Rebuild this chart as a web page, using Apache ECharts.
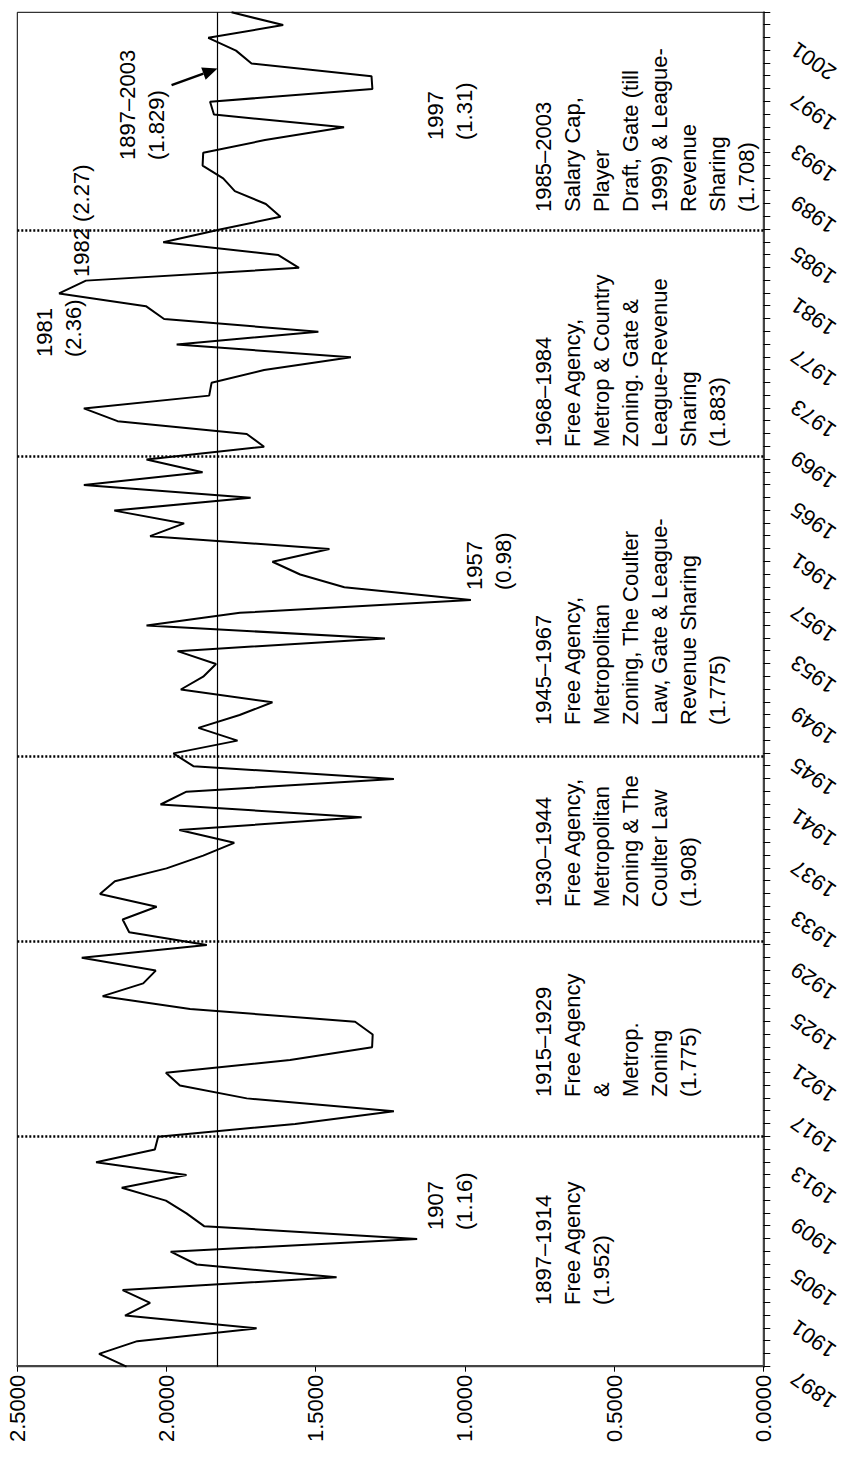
<!DOCTYPE html>
<html>
<head>
<meta charset="utf-8">
<script src="https://cdn.jsdelivr.net/npm/echarts@6/dist/echarts.min.js"></script>
<style>
  html, body { margin: 0; padding: 0; background: #fff; width: 843px; height: 1457px; overflow: hidden; }
  /* the chart is laid out landscape and turned a quarter turn counter-clockwise */
  #chart { position: absolute; left: 0; top: 0; width: 1457px; height: 843px;
           transform-origin: 0 0; transform: translateY(1457px) rotate(-90deg); }
</style>
</head>
<body>
<div id="chart"></div>
<script>
// seasons on the horizontal axis
const years = [
  1897, 1898, 1899, 1900, 1901, 1902, 1903, 1904, 1905, 1906,
  1907, 1908, 1909, 1910, 1911, 1912, 1913, 1914, 1915, 1916,
  1917, 1918, 1919, 1920, 1921, 1922, 1923, 1924, 1925, 1926,
  1927, 1928, 1929, 1930, 1931, 1932, 1933, 1934, 1935, 1936,
  1937, 1938, 1939, 1940, 1941, 1942, 1943, 1944, 1945, 1946,
  1947, 1948, 1949, 1950, 1951, 1952, 1953, 1954, 1955, 1956,
  1957, 1958, 1959, 1960, 1961, 1962, 1963, 1964, 1965, 1966,
  1967, 1968, 1969, 1970, 1971, 1972, 1973, 1974, 1975, 1976,
  1977, 1978, 1979, 1980, 1981, 1982, 1983, 1984, 1985, 1986,
  1987, 1988, 1989, 1990, 1991, 1992, 1993, 1994, 1995, 1996,
  1997, 1998, 1999, 2000, 2001, 2002, 2003
];

// competitive-balance ratio per season
const ratio = [
  2.134, 2.226, 2.098, 1.698, 2.139, 2.055, 2.147, 1.430, 1.899, 1.986,
  1.16,  1.874, 1.933, 2.002, 2.150, 1.933, 2.236, 2.039, 2.028, 1.569,
  1.238, 1.731, 1.955, 2.002, 1.586, 1.311, 1.309, 1.368, 1.921, 2.214,
  2.078, 2.036, 2.284, 1.865, 2.125, 2.147, 2.033, 2.223, 2.173, 2.000,
  1.877, 1.773, 1.957, 1.346, 2.020, 1.933, 1.238, 1.910, 1.977, 1.762,
  1.893, 1.755, 1.645, 1.952, 1.877, 1.834, 1.963, 1.268, 2.067, 1.754,
  0.98,  1.404, 1.552, 1.645, 1.454, 2.055, 1.941, 2.175, 1.718, 2.277,
  1.879, 2.067, 1.673, 1.731, 2.164, 2.277, 1.857, 1.849, 1.673, 1.382,
  1.966, 1.491, 2.008, 2.069, 2.36,  2.27,  1.556, 1.625, 2.011, 1.821,
  1.618, 1.667, 1.771, 1.810, 1.879, 1.877, 1.670, 1.405, 1.841, 1.854,
  1.31,  1.313, 1.715, 1.767, 1.860, 1.609, 1.782
];

// long-run average over the whole period
const overallMean = 1.829;

// dividing lines between the labour-market regimes
const regimeBreaks = [1915, 1930.25, 1944.75, 1968.25, 1985.9];

// value-axis ticks
const valueTicks = [0, 0.5, 1.0, 1.5, 2.0, 2.5];

// regime descriptions, one text block per regime
const regimeText = [
  '1897\u20131914\nFree Agency\n(1.952)',
  '1915\u20131929\nFree Agency\n&\nMetrop.\nZoning\n(1.775)',
  '1930\u20131944\nFree Agency,\nMetropolitan\nZoning & The\nCoulter Law\n(1.908)',
  '1945\u20131967\nFree Agency,\nMetropolitan\nZoning, The Coulter\nLaw, Gate & League-\nRevenue Sharing\n(1.775)',
  '1968\u20131984\nFree Agency,\nMetrop & Country\nZoning. Gate &\nLeague-Revenue\nSharing\n(1.883)',
  '1985\u20132003\nSalary Cap,\nPlayer\nDraft, Gate (till\n1999) & League-\nRevenue\nSharing\n(1.708)'
];

// call-outs on individual seasons
const pointText = ['1907\n(1.16)', '1957\n(0.98)', '1981\n(2.36)', '1982 (2.27)', '1997\n(1.31)'];
const meanText = '1897\u20132003\n(1.829)';

// ---- layout of the text blocks (pixels in the landscape frame) ----
const FONT = '22px "Liberation Sans", Arial, sans-serif';
const LINE_H = 29;
const regimeAt = [[152, 529], [360, 529], [550, 529], [732, 529], [1010, 529], [1245, 529]];
const pointAt = [[227, 421], [867, 460], [1100, 30], [1180, 67], [1317, 421]];
const meanAt = [1297, 113];
// arrow from the mean call-out to the mean line, in data units
const arrowTail = [1997.3, 1.983];
const arrowTipYear = 1998.6;

const chart = echarts.init(document.getElementById('chart'), null, { renderer: 'svg' });

const markData = [
  { yAxis: overallMean, lineStyle: { type: 'solid', width: 1.2, color: '#000' } }
].concat(regimeBreaks.map(function (b) {
  return { xAxis: b, lineStyle: { type: [2, 2], width: 2.5, color: '#000' } };
}));

chart.setOption({
  backgroundColor: '#fff',
  animation: false,
  grid: { left: 90.3, right: 12.3, top: 17.3, bottom: 79.7, show: true,
          borderColor: '#000', borderWidth: 1, backgroundColor: 'transparent' },
  xAxis: {
    type: 'value', min: years[0], max: years[years.length - 1], interval: 1,
    axisLine: { show: true, lineStyle: { color: '#444', width: 2 } },
    axisTick: { show: true, inside: false, length: 7, lineStyle: { color: '#000', width: 1 } },
    splitLine: { show: false },
    axisLabel: {
      rotate: 55, margin: 17, padding: [0, 16, 0, 0], color: '#000', fontSize: 22,
      fontFamily: '"Liberation Sans", Arial, sans-serif',
      showMinLabel: true, showMaxLabel: true,
      formatter: function (v) { return (v - years[0]) % 4 === 0 ? String(v) : ''; }
    }
  },
  yAxis: {
    type: 'value', min: valueTicks[0], max: valueTicks[valueTicks.length - 1], interval: 0.5,
    axisLine: { show: true, lineStyle: { color: '#444', width: 2 } },
    axisTick: { show: true, inside: false, length: 5, lineStyle: { color: '#000', width: 1 } },
    splitLine: { show: false },
    axisLabel: {
      margin: 8, color: '#000', fontSize: 22,
      fontFamily: '"Liberation Sans", Arial, sans-serif',
      formatter: function (v) { return v.toFixed(4); }
    }
  },
  series: [{
    type: 'line',
    data: years.map(function (y, i) { return [y, ratio[i]]; }),
    showSymbol: false,
    lineStyle: { color: '#000', width: 2 },
    markLine: { silent: true, symbol: ['none', 'none'], label: { show: false }, data: markData }
  }]
});

function textEl(str, pos) {
  return {
    type: 'text', x: pos[0], y: pos[1], silent: true,
    style: { text: str, font: FONT, fill: '#000', lineHeight: LINE_H,
             textAlign: 'left', textVerticalAlign: 'top' }
  };
}

const elements = [];
regimeText.forEach(function (t, i) { elements.push(textEl(t, regimeAt[i])); });
pointText.forEach(function (t, i) { elements.push(textEl(t, pointAt[i])); });
elements.push(textEl(meanText, meanAt));

// arrow pointing at the long-run mean line
const tail = chart.convertToPixel({ gridIndex: 0 }, arrowTail);
const tip = chart.convertToPixel({ gridIndex: 0 }, [arrowTipYear, overallMean]);
const dx = tip[0] - tail[0], dy = tip[1] - tail[1];
const len = Math.sqrt(dx * dx + dy * dy);
const ux = dx / len, uy = dy / len;
const headL = 15, headW = 6.5;
const base = [tip[0] - ux * headL, tip[1] - uy * headL];
elements.push({
  type: 'line', silent: true,
  shape: { x1: tail[0], y1: tail[1], x2: base[0], y2: base[1] },
  style: { stroke: '#000', lineWidth: 2.5 }
});
elements.push({
  type: 'polygon', silent: true,
  shape: { points: [tip, [base[0] - uy * headW, base[1] + ux * headW], [base[0] + uy * headW, base[1] - ux * headW]] },
  style: { fill: '#000' }
});

chart.setOption({ graphic: { elements: elements } });
</script>
</body>
</html>
